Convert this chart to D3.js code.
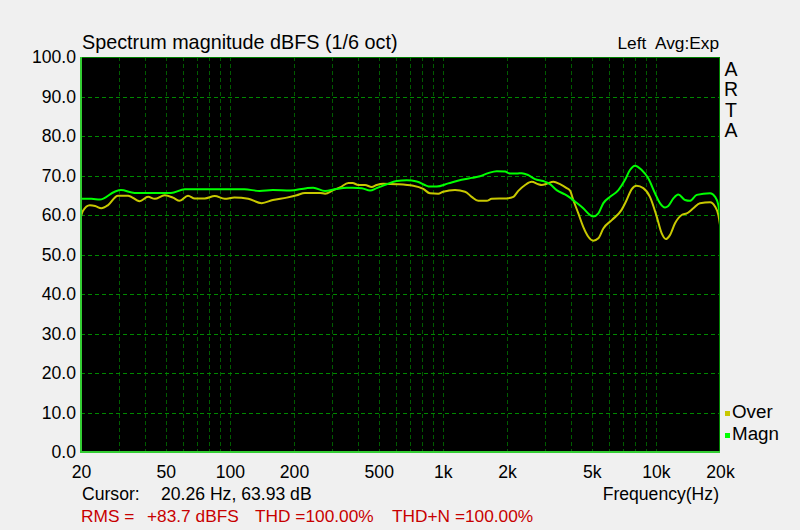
<!DOCTYPE html>
<html><head><meta charset="utf-8">
<script src="https://cdn.jsdelivr.net/npm/d3@7"></script>
<style>
html,body{margin:0;padding:0;background:#f0f0f0;}
svg{display:block;font-family:"Liberation Sans",Arial,sans-serif;}
</style></head>
<body><svg id="c" width="800" height="530"></svg>
<script>
// ---- data ----
const magnFreq = [20,22.4,24.5,28.8,30.8,35.7,52.9,61.4,117,138,159,192,229,246,280,311,353,378,416,455,489,545,607,676,754,869,935,1060,1224,1365,1493,1633,1790,1958,2066,2224,2346,2518,2707,2960,3184,3420,3742,3950,4170,4560,4909,5083,5370,5667,6095,6669,7166,7557,7979,8578,9209,9908,10450,11040,11430,12080,12740,13700,14460,15560,17970,18970,19650,20000];
const magnDb   = [64.1,64.1,63.9,65.9,66.3,65.6,65.6,66.5,66.5,66.1,66.3,66.2,66.8,66.9,66.1,66.5,66.9,66.9,66.8,66.2,66.8,67.8,68.6,68.8,68.5,67.2,67.2,68.0,68.9,69.4,69.8,70.6,71.1,71.0,70.5,70.5,70.6,70.1,69.1,68.6,67.8,66.3,65.2,64.4,63.4,61.7,60.0,59.6,60.4,63.0,64.6,66.3,68.9,71.4,72.5,71.4,69.3,65.5,63.0,61.9,62.3,64.2,65.2,63.8,63.6,65.1,65.5,64.6,62.5,59.6];
const overFreq = [20,20.4,22.0,23.3,24.9,26.8,29.8,33.3,37.7,41.3,44.4,49.4,54.1,58.1,63.6,68.4,76.2,84.9,94.6,105,122,141,159,185,206,225,265,280,306,329,360,377,401,431,463,489,525,607,726,809,869,951,1004,1140,1271,1365,1466,1606,1695,1993,2143,2260,2433,2613,2806,2911,3073,3301,3547,3813,3950,4094,4325,4560,4818,5083,5370,5667,6209,6902,7293,7691,8120,8730,9380,10090,10640,11140,11640,12300,13220,13960,14990,16100,17970,18970,19650,20000];
const overDb   = [59.6,61.0,62.5,62.3,61.7,62.5,64.9,64.9,63.5,64.6,64.1,65.0,64.4,63.6,64.9,64.2,64.2,64.8,64.1,64.4,64.1,63.0,63.8,64.4,65.0,65.6,65.6,65.4,66.3,67.0,68.1,68.1,67.6,67.6,67.1,67.6,67.9,67.8,67.4,66.6,65.5,65.4,65.9,66.3,65.9,64.6,63.6,63.6,64.1,64.2,64.6,66.1,67.6,68.4,67.8,67.6,67.9,68.4,67.8,66.8,66.2,63.8,60.4,57.0,54.5,53.5,54.1,56.6,58.7,61.3,63.8,66.5,67.4,66.8,64.6,59.6,55.4,53.9,54.9,57.9,60.0,60.4,61.7,63.0,63.2,62.1,60.0,57.5];
const yTicks = [0,10,20,30,40,50,60,70,80,90,100];
const xTickVals = [20,50,100,200,500,1000,2000,5000,10000,20000];
const xTickLabels = ["20","50","100","200","500","1k","2k","5k","10k","20k"];
const gridFreqs = [30,40,50,60,70,80,90,100,200,300,400,500,600,700,800,900,1000,2000,3000,4000,5000,6000,7000,8000,9000,10000];
const seriesNames = ["Over","Magn"];
const seriesColors = ["#c8c800","#00ff00"];

// ---- layout ----
const L=81,R=720,T=57,B=452;
const svg=d3.select("#c");
const x=d3.scaleLog().domain([20,20000]).range([L,R]);
const y=d3.scaleLinear().domain([0,100]).range([B,T]);

svg.append("rect").attr("x",L).attr("y",T).attr("width",R-L).attr("height",B-T).attr("fill","#000");

// grid
const g=svg.append("g");
g.selectAll("line.v").data(gridFreqs).enter().append("line")
 .attr("x1",d=>Math.round(x(d))+0.5).attr("x2",d=>Math.round(x(d))+0.5)
 .attr("y1",T).attr("y2",B).attr("stroke","#005c00").attr("stroke-dasharray","4,3");
g.selectAll("line.h").data(yTicks.slice(1,-1)).enter().append("line")
 .attr("x1",L).attr("x2",R)
 .attr("y1",d=>Math.round(y(d))+0.5).attr("y2",d=>Math.round(y(d))+0.5)
 .attr("stroke","#008800").attr("stroke-dasharray","4,3");

// curves
svg.append("clipPath").attr("id","clip").append("rect").attr("x",L).attr("y",T).attr("width",R-L).attr("height",B-T);
const line=d3.line().x(d=>x(d[0])).y(d=>y(d[1])).curve(d3.curveMonotoneX);
const overData=overFreq.map((f,i)=>[f,overDb[i]]);
const magnData=magnFreq.map((f,i)=>[f,magnDb[i]]);
const cg=svg.append("g").attr("clip-path","url(#clip)");
cg.append("path").datum(overData).attr("d",line).attr("fill","none").attr("stroke",seriesColors[0]).attr("stroke-width",2);
cg.append("path").datum(magnData).attr("d",line).attr("fill","none").attr("stroke",seriesColors[1]).attr("stroke-width",2);

// border
svg.append("rect").attr("x",L+0.5).attr("y",T+0.5).attr("width",R-L-1).attr("height",B-T-1).attr("fill","none").attr("stroke","#008000");
svg.append("line").attr("x1",L).attr("x2",L).attr("y1",T).attr("y2",B+1).attr("stroke","#33cc33").attr("stroke-width",2);
svg.append("line").attr("x1",L).attr("x2",R).attr("y1",B).attr("y2",B).attr("stroke","#33cc33").attr("stroke-width",2);

// axes
const yAxis=svg.append("g").attr("transform",`translate(${L},0)`)
 .call(d3.axisLeft(y).tickValues(yTicks).tickFormat(d3.format(".1f")).tickSize(0).tickPadding(5));
const xAxis=svg.append("g").attr("transform",`translate(0,${B})`)
 .call(d3.axisBottom(x).tickValues(xTickVals).tickFormat((d,i)=>xTickLabels[i]).tickSize(0).tickPadding(14));
[yAxis,xAxis].forEach(a=>{a.select(".domain").remove();a.selectAll("text").attr("fill","#000").style("font-size","17.6px").style("font-family","'Liberation Sans',Arial,sans-serif");});

// texts
const txt=(s,xx,yy,opt={})=>svg.append("text").attr("x",xx).attr("y",yy).text(s)
  .attr("fill",opt.fill||"#000").attr("text-anchor",opt.anchor||"start").style("font-size",(opt.size||17.6)+"px");
txt("Spectrum magnitude dBFS (1/6 oct)",82,49,{size:19.8});
txt("Left  Avg:Exp",719,49,{anchor:"end",size:17.3}).attr("xml:space","preserve").style("white-space","pre");
["A","R","T","A"].forEach((c,i)=>txt(c,731,76+i*20.3,{anchor:"middle",size:19.5}));
txt("Cursor:",82,500);
txt("20.26 Hz, 63.93 dB",161,500);
txt("Frequency(Hz)",719,500,{anchor:"end"});
const red="#c80000";
txt("RMS =",81,522,{fill:red,size:17.3});
txt("+83.7 dBFS",147,522,{fill:red,size:17.3});
txt("THD =100.00%",255,522,{fill:red,size:17.3});
txt("THD+N =100.00%",392,522,{fill:red,size:17.3});

// legend
seriesNames.forEach((n,i)=>{
  const yy=[418,440][i];
  svg.append("rect").attr("x",725).attr("y",yy-7).attr("width",5).attr("height",5).attr("fill",seriesColors[i]);
  txt(n,732,yy,{size:18.8});
});
</script></body></html>
